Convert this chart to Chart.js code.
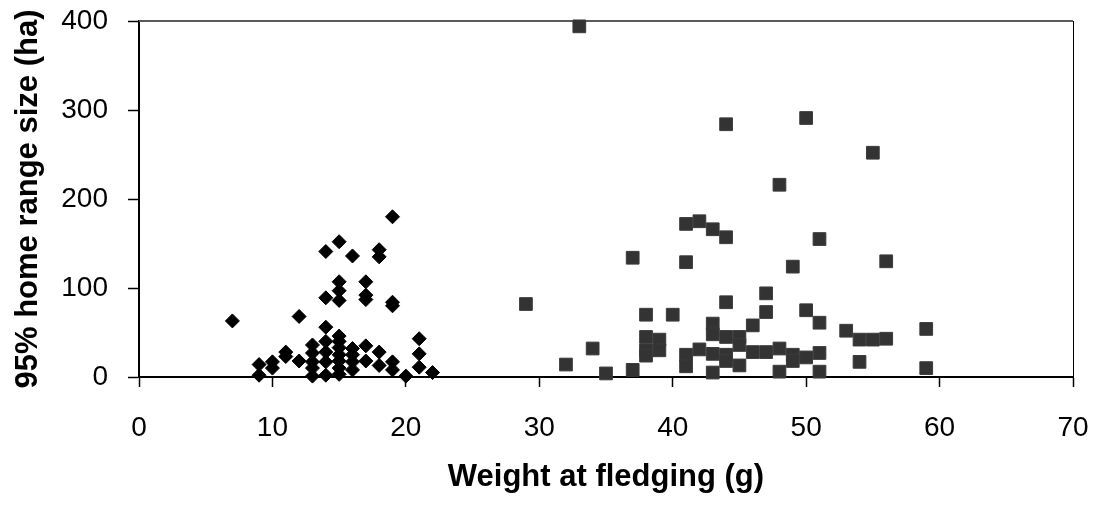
<!DOCTYPE html>
<html>
<head>
<meta charset="utf-8">
<script src="https://cdn.jsdelivr.net/npm/chart.js@4/dist/chart.umd.min.js"></script>
<style>
  html, body { margin: 0; padding: 0; background: #fff; }
  #wrap { width: 1099px; height: 506px; }
</style>
</head>
<body>
<div id="wrap"><canvas id="scatter" width="1099" height="506"></canvas></div>
<script>
// small-bodied species (diamonds): weight at fledging (g) / 95% home range (ha)
const smallWeight = [7, 9, 9, 10, 10, 11, 11, 12, 12,
  13, 13, 13, 13, 13,
  14, 14, 14, 14, 14, 14, 14,
  15, 15, 15, 15, 15, 15, 15, 15, 15, 15, 15,
  16, 16, 16, 16, 16,
  17, 17, 17, 17, 17,
  18, 18, 18, 18,
  19, 19, 19, 19, 19,
  20, 21, 21, 21, 22];
const smallRange = [63, 14, 2, 17, 10, 28, 23, 68, 18,
  36, 27, 17, 10, 1,
  141, 89, 56, 40, 28, 17, 2,
  152, 107, 97, 86, 46, 40, 33, 25, 18, 10, 3,
  136, 32, 25, 17, 8,
  107, 92, 87, 35, 18,
  143, 135, 28, 13,
  180, 84, 80, 17, 8,
  1, 43, 26, 11, 5];

// large-bodied species (squares)
const largeWeight = [29, 32, 33, 34, 35, 37, 37,
  38, 38, 38, 38, 39, 39, 40,
  41, 41, 41, 41, 42, 42,
  43, 43, 43, 43, 43,
  44, 44, 44, 44, 44, 44,
  45, 45, 45, 46, 46,
  47, 47, 47, 48, 48, 48,
  49, 49, 49, 50, 50, 50,
  51, 51, 51, 51, 53, 54, 54,
  55, 55, 56, 56, 59, 59];
const largeRange = [82, 14, 394, 32, 4, 134, 8,
  70, 45, 30, 24, 42, 30, 70,
  172, 129, 25, 12, 175, 31,
  166, 60, 48, 26, 5,
  284, 157, 84, 45, 25, 18,
  45, 36, 13, 58, 28,
  94, 73, 28, 216, 32, 6,
  124, 25, 18, 291, 75, 22,
  155, 61, 27, 6, 52, 42, 17,
  252, 42, 130, 43, 54, 10];

const xTicks = [0, 10, 20, 30, 40, 50, 60, 70];
const yTicks = [0, 100, 200, 300, 400];

function toPoints(xs, ys) {
  return xs.map((x, i) => ({ x: x, y: ys[i] }));
}

const font = "'Liberation Sans', Arial, sans-serif";

// thin frame on the top and right of the plot area
const plotFrame = {
  id: 'plotFrame',
  beforeDatasetsDraw(chart) {
    const { ctx, chartArea: a } = chart;
    ctx.save();
    ctx.strokeStyle = '#5a5a5a';
    ctx.lineWidth = 2;
    ctx.beginPath();
    ctx.moveTo(a.left, a.top);
    ctx.lineTo(a.right, a.top);
    ctx.stroke();
    ctx.strokeStyle = '#000';
    ctx.lineWidth = 1;
    ctx.beginPath();
    ctx.moveTo(a.right + 0.5, a.top);
    ctx.lineTo(a.right + 0.5, a.bottom);
    ctx.stroke();
    ctx.restore();
  }
};

const ctx = document.getElementById('scatter').getContext('2d');
new Chart(ctx, {
  type: 'scatter',
  data: {
    datasets: [
      {
        label: 'small',
        data: toPoints(smallWeight, smallRange),
        pointStyle: 'rectRot',
        pointRadius: 7,
        pointHoverRadius: 7,
        backgroundColor: '#000',
        borderColor: '#000',
        borderWidth: 1,
        clip: false
      },
      {
        label: 'large',
        data: toPoints(largeWeight, largeRange),
        pointStyle: 'rect',
        pointRadius: 9,
        pointHoverRadius: 9,
        backgroundColor: '#333',
        borderColor: '#3c3c3c',
        borderWidth: 1,
        clip: false
      }
    ]
  },
  options: {
    responsive: false,
    animation: false,
    layout: { padding: { top: 21, right: 26, left: 0, bottom: 0 } },
    plugins: {
      legend: { display: false },
      tooltip: { enabled: false }
    },
    scales: {
      x: {
        type: 'linear',
        min: 0,
        max: 70,
        afterBuildTicks(scale) { scale.ticks = xTicks.map(v => ({ value: v })); },
        afterFit(scale) {
          scale.height = 129;
          scale.paddingLeft = 0;
          scale.paddingRight = 0;
        },
        ticks: { color: '#000', padding: 24, font: { family: font, size: 28 } },
        grid: { drawOnChartArea: false, drawTicks: true, tickLength: 10, tickColor: '#000', tickWidth: 1.5 },
        border: { color: '#000', width: 2 },
        title: {
          display: true,
          text: 'Weight at fledging (g)',
          color: '#000',
          font: { family: font, size: 31, weight: 'bold' },
          padding: { top: 0, bottom: 10 }
        }
      },
      y: {
        type: 'linear',
        min: 0,
        max: 400,
        afterBuildTicks(scale) { scale.ticks = yTicks.map(v => ({ value: v })); },
        afterFit(scale) {
          scale.width = 139;
          scale.paddingTop = 0;
          scale.paddingBottom = 0;
        },
        ticks: { color: '#000', padding: 20, font: { family: font, size: 28 } },
        grid: { drawOnChartArea: false, drawTicks: true, tickLength: 11, tickColor: '#000', tickWidth: 1.5 },
        border: { color: '#000', width: 2 },
        title: {
          display: true,
          text: '95% home range size (ha)',
          color: '#000',
          font: { family: font, size: 31, weight: 'bold' },
          padding: { top: 10, bottom: 0 }
        }
      }
    }
  },
  plugins: [plotFrame]
});
</script>
</body>
</html>
